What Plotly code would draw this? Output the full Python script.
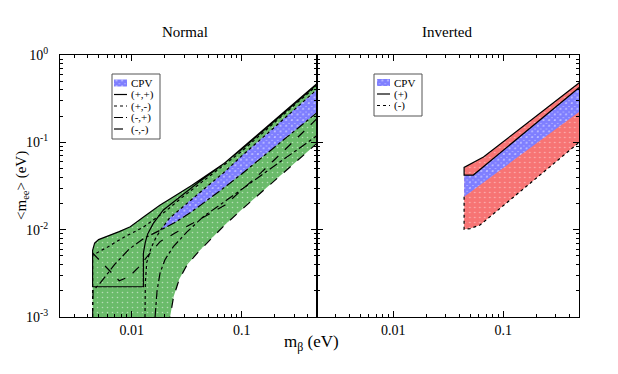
import plotly.graph_objects as go

FONT = "Liberation Serif"
GREEN = "#6abb6a"
RED = "#f77474"
BLUE = "#1a1aff"
CPV_BG = "#e4e4ff"

# ---- Normal ordering (left panel), values in eV ----
# allowed region, upper edge (left -> right)
no_top_mb = [0.00441, 0.00441, 0.0046, 0.0050, 0.0058, 0.0077, 0.0097, 0.0128, 0.018, 0.024,
             0.035, 0.048, 0.07, 0.1, 0.2, 0.3, 0.49]
no_top_mee = [0.001, 0.0058, 0.0070, 0.0077, 0.0083, 0.0095, 0.0108, 0.0140, 0.0190, 0.0238,
              0.0320, 0.042, 0.058, 0.085, 0.18, 0.28, 0.48]
# allowed region, lower edge (right -> left)
no_low_mb = [0.49, 0.2, 0.1, 0.07, 0.05, 0.04, 0.032, 0.027, 0.024, 0.0223]
no_low_mee = [0.099, 0.037, 0.0170, 0.0113, 0.0073, 0.0055, 0.0040, 0.0027, 0.0017, 0.001]

# CP violating band
no_cpv_top_mb = [0.0183, 0.022, 0.0275, 0.035, 0.048, 0.07, 0.1, 0.2, 0.49]
no_cpv_top_mee = [0.0099, 0.0135, 0.0172, 0.0225, 0.031, 0.046, 0.070, 0.15, 0.41]
no_cpv_low_mb = [0.0183, 0.025, 0.035, 0.05, 0.07, 0.1, 0.2, 0.49]
no_cpv_low_mee = [0.0099, 0.0122, 0.0160, 0.0222, 0.0306, 0.0435, 0.089, 0.222]

# (+,+) boundary
pp_mb = [0.49, 0.3, 0.2, 0.1, 0.07, 0.048, 0.035, 0.024, 0.018, 0.0128, 0.0097, 0.0077, 0.0058,
         0.0050, 0.0046, 0.00441, 0.00441, 0.01276, 0.01276, 0.0133, 0.0140, 0.0157, 0.0194,
         0.0275, 0.04, 0.06, 0.1, 0.2, 0.49]
pp_mee = [0.48, 0.28, 0.18, 0.085, 0.058, 0.042, 0.032, 0.0238, 0.0190, 0.0140, 0.0108, 0.0095,
          0.0083, 0.0077, 0.0070, 0.0058, 0.00222, 0.00222, 0.0054, 0.0072, 0.0090, 0.0118, 0.0168,
          0.0240, 0.0345, 0.050, 0.083, 0.177, 0.47]
# (+,-) boundaries
pm_up_mb = [0.00441, 0.00441, 0.006, 0.0085, 0.0128, 0.02, 0.03, 0.05, 0.1, 0.2, 0.49]
pm_up_mee = [0.001, 0.0051, 0.0063, 0.0082, 0.0107, 0.0160, 0.0245, 0.040, 0.079, 0.170, 0.455]
pm_low_mb = [0.0132, 0.0133, 0.0137, 0.0150, 0.0165, 0.0183, 0.022, 0.0275, 0.035, 0.048, 0.07,
             0.1, 0.2, 0.49]
pm_low_mee = [0.001, 0.0025, 0.0042, 0.0062, 0.0080, 0.0099, 0.0135, 0.0172, 0.0225, 0.031,
              0.046, 0.070, 0.15, 0.41]
# (-,+) boundaries
mp_up_mb = [0.00441, 0.00445, 0.0051, 0.0070, 0.0095, 0.013, 0.0183, 0.025, 0.035, 0.05, 0.07,
            0.1, 0.2, 0.49]
mp_up_mee = [0.001, 0.0020, 0.0024, 0.0040, 0.0060, 0.0080, 0.0099, 0.0122, 0.0160, 0.0222,
             0.0306, 0.0435, 0.089, 0.222]
mp_low_mb = [0.0163, 0.0170, 0.0181, 0.020, 0.0239, 0.032, 0.0448, 0.1, 0.2, 0.49]
mp_low_mee = [0.001, 0.0020, 0.0032, 0.0045, 0.0064, 0.0095, 0.0141, 0.029, 0.055, 0.121]
# (-,-) boundaries
mm_up_mb = [0.00441, 0.0060, 0.0077, 0.0095, 0.0115, 0.0140, 0.0181, 0.025, 0.034, 0.05, 0.07,
            0.15, 0.49]
mm_up_mee = [0.0054, 0.0036, 0.0026, 0.0029, 0.0037, 0.0050, 0.0073, 0.0092, 0.0115, 0.0150,
             0.0190, 0.045, 0.19]
mm_low_mb = no_low_mb
mm_low_mee = no_low_mee

# ---- Inverted ordering (right panel) ----
io_top_mb = [0.044, 0.066, 0.49]
io_top_mee = [0.0517, 0.068, 0.48]
io_plus_low_mb = [0.044, 0.0534, 0.49]
io_plus_low_mee = [0.0422, 0.0422, 0.425]
io_cpv_low_mb = [0.044, 0.49]
io_cpv_low_mee = [0.0238, 0.224]
io_low_mb = [0.044, 0.05, 0.0614, 0.49]
io_low_mee = [0.0101, 0.0103, 0.0113, 0.1]

x_major = [0.01, 0.1]
x_major_text = ["0.01", "0.1"]
x_minor = [0.003, 0.004, 0.005, 0.006, 0.007, 0.008, 0.009,
           0.02, 0.03, 0.04, 0.05, 0.06, 0.07, 0.08, 0.09, 0.2, 0.3, 0.4]
y_major = [0.001, 0.01, 0.1, 1]
y_major_text = ["10<sup>-3</sup>", "10<sup>-2</sup>", "10<sup>-1</sup>", "10<sup>0</sup>"]
y_minor = [m * d for d in (0.001, 0.01, 0.1) for m in range(2, 10)]


def filled(xs, ys, xa, ya, bg, shape, fg, size, solidity):
    return go.Scatter(x=xs, y=ys, xaxis=xa, yaxis=ya, mode="lines", fill="toself",
                      line=dict(width=0), fillcolor=bg, hoverinfo="skip", showlegend=False,
                      fillpattern=dict(shape=shape, fgcolor=fg, bgcolor=bg, size=size,
                                       solidity=solidity))


def curve(xs, ys, xa, ya, dash):
    return go.Scatter(x=xs, y=ys, xaxis=xa, yaxis=ya, mode="lines", showlegend=False,
                      line=dict(color="black", width=1.2, dash=dash), hoverinfo="skip")


fig = go.Figure()

# left panel
fig.add_trace(filled(no_top_mb + no_low_mb, no_top_mee + no_low_mee, "x", "y",
                     GREEN, ".", "white", 5, 0.08))
fig.add_trace(filled(no_cpv_top_mb + no_cpv_low_mb[::-1], no_cpv_top_mee + no_cpv_low_mee[::-1],
                     "x", "y", CPV_BG, "x", BLUE, 4, 0.9))
fig.add_trace(curve(pp_mb, pp_mee, "x", "y", "solid"))
fig.add_trace(curve(pm_up_mb, pm_up_mee, "x", "y", "dot"))
fig.add_trace(curve(pm_low_mb, pm_low_mee, "x", "y", "dot"))
fig.add_trace(curve(mp_up_mb, mp_up_mee, "x", "y", "dashdot"))
fig.add_trace(curve(mp_low_mb, mp_low_mee, "x", "y", "dashdot"))
fig.add_trace(curve(mm_up_mb, mm_up_mee, "x", "y", "dash"))
fig.add_trace(curve(mm_low_mb, mm_low_mee, "x", "y", "dash"))

# right panel
fig.add_trace(filled(io_top_mb + io_low_mb[::-1], io_top_mee + io_low_mee[::-1], "x2", "y2",
                     RED, ".", "white", 5, 0.08))
fig.add_trace(filled(io_plus_low_mb + io_cpv_low_mb[::-1], io_plus_low_mee + io_cpv_low_mee[::-1],
                     "x2", "y2", CPV_BG, "x", BLUE, 4, 0.9))
fig.add_trace(curve(io_top_mb[::-1] + io_plus_low_mb, io_top_mee[::-1] + io_plus_low_mee,
                    "x2", "y2", "solid"))
fig.add_trace(curve([io_cpv_low_mb[0]] + io_low_mb, [io_cpv_low_mee[0]] + io_low_mee,
                    "x2", "y2", "dot"))

# hand-drawn legends on a pixel-scaled overlay
leg_font = dict(family=FONT, size=11, color="black")
shapes = []
annotations = []


def legend(x0, x1, y0, y1, rows, sx0, sx1, tx):
    shapes.append(dict(type="rect", xref="x3", yref="y3", x0=x0, x1=x1, y0=y0, y1=y1,
                       line=dict(color="#555", width=1), fillcolor="white", layer="below"))
    for label, dash, yy in rows:
        if dash is None:
            fig.add_trace(filled([sx0, sx1, sx1, sx0], [yy - 3.5, yy - 3.5, yy + 3.5, yy + 3.5],
                                 "x3", "y3", CPV_BG, "x", BLUE, 4, 0.9))
        else:
            shapes.append(dict(type="line", xref="x3", yref="y3", x0=sx0, x1=sx1, y0=yy, y1=yy,
                               line=dict(color="black", width=1.2, dash=dash)))
        annotations.append(dict(x=tx, y=yy, xref="x3", yref="y3", text=label, showarrow=False,
                                xanchor="left", yanchor="middle", font=leg_font))


legend(112, 160, 74, 139,
       [("CPV", None, 83), ("(+,+)", "solid", 94.5), ("(+,-)", "dot", 106),
        ("(-,+)", "dashdot", 117.5), ("(-,-)", "dash", 129)], 114, 127, 129)
legend(374, 422, 74, 116,
       [("CPV", None, 82.5), ("(+)", "solid", 94), ("(-)", "dot", 105.5)], 377, 390, 392)


def px_note(text, px, py, size, angle=0):
    # place text at a window pixel position (plot area spans 60..579, 55..317)
    return dict(text=text, x=(px - 60) / 519, y=(317 - py) / 262, xref="paper", yref="paper",
                showarrow=False, xanchor="center", yanchor="middle", textangle=angle,
                font=dict(family=FONT, size=size, color="black"))


annotations += [
    px_note("Normal", 185, 32, 15),
    px_note("Inverted", 447, 32, 15),
    px_note("m<sub>β</sub> (eV)", 311, 343, 17),
    px_note("&lt;m<sub>ee</sub>&gt; (eV)", 22, 186, 15, -90),
]

tick_font = dict(family=FONT, size=14, color="black")
axis_common = dict(type="log", showline=True, linecolor="black", linewidth=1, mirror="allticks",
                   ticks="inside", ticklen=6, tickcolor="black", showgrid=False, zeroline=False,
                   tickfont=tick_font, automargin=False)
xa = dict(axis_common, tickvals=x_major, ticktext=x_major_text,
          minor=dict(tickvals=x_minor, ticks="inside", ticklen=3, tickcolor="black"))
ya = dict(axis_common, range=[-3, 0], tickvals=y_major, ticklabelstandoff=8,
          minor=dict(tickvals=y_minor, ticks="inside", ticklen=3, tickcolor="black"))

# the page body adds an 8px offset, so the figure is 8px smaller and margins are shifted
fig.update_layout(
    width=610, height=366,
    margin=dict(l=52, r=39, t=47, b=57),
    paper_bgcolor="white", plot_bgcolor="rgba(0,0,0,0)",
    showlegend=False,
    font=dict(family=FONT, color="black"),
    xaxis=dict(xa, domain=[0, 0.4958], range=[-2.652, -0.313], anchor="y"),
    yaxis=dict(ya, domain=[0, 1], anchor="x", ticktext=y_major_text),
    xaxis2=dict(xa, domain=[0.4958, 1], range=[-2.691, -0.312], anchor="y2"),
    yaxis2=dict(ya, domain=[0, 1], anchor="x2", showticklabels=False),
    xaxis3=dict(domain=[0, 1], range=[60, 579], visible=False, anchor="y3", fixedrange=True,
                automargin=False),
    yaxis3=dict(domain=[0, 1], range=[317, 55], visible=False, anchor="x3", fixedrange=True,
                automargin=False),
    shapes=shapes,
    annotations=annotations,
)

fig.write_html("out.html")
